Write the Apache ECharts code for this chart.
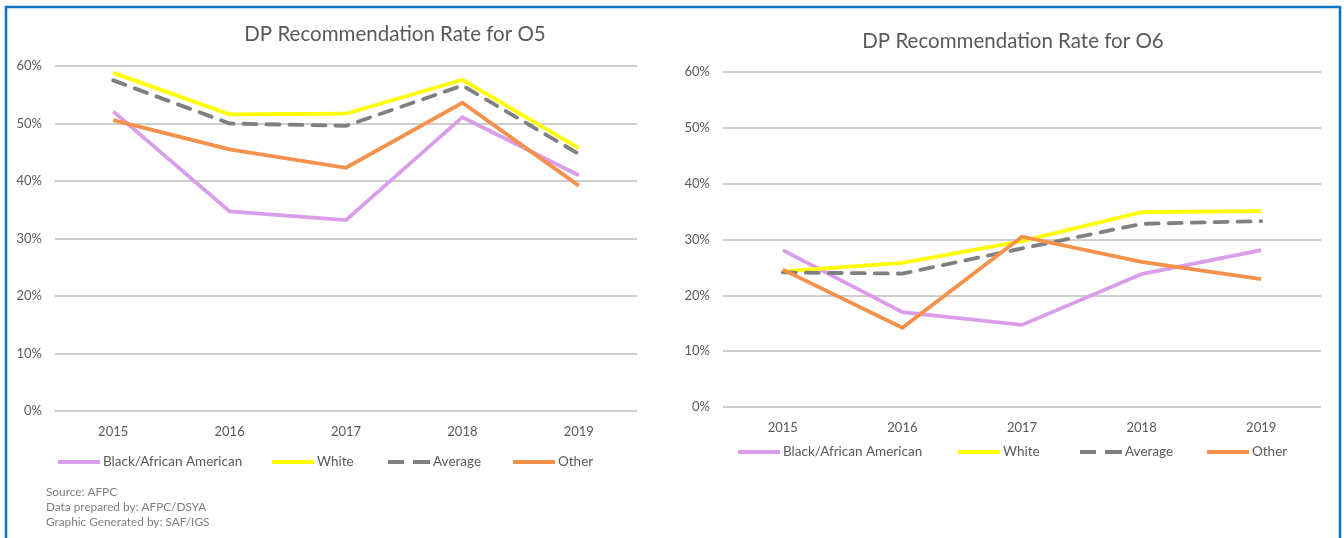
<!DOCTYPE html>
<html>
<head>
<meta charset="utf-8">
<style>
  html, body { margin: 0; padding: 0; background: #ffffff; }
  #chart { width: 1344px; height: 538px; }
</style>
<script src="https://cdn.jsdelivr.net/npm/echarts@6/dist/echarts.min.js"></script>
</head>
<body>
<div id="chart"></div>
<script>
// Years on the category axis
const years = ['2015', '2016', '2017', '2018', '2019'];
const seriesNames = ['Black/African American', 'White', 'Average', 'Other'];

// O5 recommendation rates (%)
const o5Black = [52.1, 34.7, 33.2, 51.1, 41.0];
const o5White = [58.8, 51.6, 51.7, 57.6, 45.7];
const o5Average = [57.5, 50.0, 49.6, 56.6, 44.7];
const o5Other = [50.6, 45.5, 42.3, 53.6, 39.2];

// O6 recommendation rates (%)
const o6Black = [28.1, 17.0, 14.7, 23.8, 28.1];
const o6White = [24.3, 25.8, 29.7, 34.9, 35.1];
const o6Average = [24.1, 23.9, 28.4, 32.8, 33.3];
const o6Other = [24.6, 14.2, 30.5, 26.0, 22.9];

const yTicks = [0, 10, 20, 30, 40, 50, 60];

const footnotes = ['Source: AFPC', 'Data prepared by: AFPC/DSYA', 'Graphic Generated by: SAF/IGS'];

const FONT = 'Lato, "Open Sans", sans-serif';
const TEXT = '#595959';
const colors = {
  'Black/African American': '#DA9DEA',
  'White': '#FFFF00',
  'Average': '#808080',
  'Other': '#F5914A'
};

function lineSeries(name, data, axisIndex) {
  const dashed = name === 'Average';
  return {
    name: name,
    type: 'line',
    xAxisIndex: axisIndex,
    yAxisIndex: axisIndex,
    data: data,
    showSymbol: false,
    symbol: 'none',
    smooth: false,
    animation: false,
    lineStyle: {
      width: 3.8,
      color: colors[name],
      type: dashed ? [13, 10] : 'solid',
      cap: dashed ? 'round' : 'butt',
      join: 'miter'
    },
    itemStyle: { color: colors[name] },
    z: { 'Black/African American': 2, 'White': 3, 'Average': 4, 'Other': 5 }[name]
  };
}

function xAxis(gridIndex) {
  return {
    type: 'category',
    gridIndex: gridIndex,
    data: years,
    boundaryGap: true,
    axisLine: { show: false },
    axisTick: { show: false },
    axisLabel: { color: TEXT, fontFamily: FONT, fontSize: 13, margin: 14 }
  };
}

function yAxis(gridIndex) {
  return {
    type: 'value',
    gridIndex: gridIndex,
    min: yTicks[0],
    max: yTicks[yTicks.length - 1],
    interval: 10,
    axisLine: { show: false },
    axisTick: { show: false },
    splitLine: { lineStyle: { color: '#BFBFBF', width: 1.5 } },
    axisLabel: {
      color: TEXT, fontFamily: FONT, fontSize: 13, margin: 13,
      formatter: v => v + '%'
    }
  };
}

// One legend entry per series so each key sits at its own spot
function legendItem(name, left, top, id) {
  return {
    id: id,
    left: left,
    top: top,
    padding: 0,
    itemWidth: 42,
    itemHeight: 4,
    itemGap: 0,
    data: [{
      name: name,
      icon: name === 'Average'
        ? 'path://M0,0 L16,0 L16,4 L0,4 Z M25,0 L42,0 L42,4 L25,4 Z'
        : 'rect',
      itemStyle: { color: colors[name] }
    }],
    textStyle: { color: TEXT, fontFamily: FONT, fontSize: 13.5, padding: [0, 0, 0, -2] },
    selectedMode: false
  };
}

const legendLeftO5 = [58, 272, 388, 513];
const legendLeftO6 = [738, 958, 1080, 1207];

const legends = [];
seriesNames.forEach((n, i) => {
  legends.push(legendItem(n, legendLeftO5[i], 455, 'o5-' + i));
  legends.push(legendItem(n, legendLeftO6[i], 445, 'o6-' + i));
});

const chart = echarts.init(document.getElementById('chart'), null, { renderer: 'canvas' });

chart.setOption({
  backgroundColor: '#ffffff',
  animation: false,
  title: [
    {
      text: 'DP Recommendation Rate for O5',
      left: 390, top: 19, textAlign: 'center',
      textStyle: { color: TEXT, fontFamily: FONT, fontSize: 20.5, fontWeight: 'normal' }
    },
    {
      text: 'DP Recommendation Rate for O6',
      left: 1008, top: 26, textAlign: 'center',
      textStyle: { color: TEXT, fontFamily: FONT, fontSize: 20.5, fontWeight: 'normal' }
    }
  ],
  legend: legends,
  grid: [
    { left: 55, top: 66, width: 582, height: 345 },
    { left: 723, top: 72, width: 598, height: 335 }
  ],
  xAxis: [xAxis(0), xAxis(1)],
  yAxis: [yAxis(0), yAxis(1)],
  series: [
    lineSeries('Black/African American', o5Black, 0),
    lineSeries('White', o5White, 0),
    lineSeries('Average', o5Average, 0),
    lineSeries('Other', o5Other, 0),
    lineSeries('Black/African American', o6Black, 1),
    lineSeries('White', o6White, 1),
    lineSeries('Average', o6Average, 1),
    lineSeries('Other', o6Other, 1)
  ],
  graphic: [
    // outer frame
    {
      type: 'polyline',
      shape: { points: [[6, 538], [6, 7], [1340, 7], [1340, 538]] },
      style: { stroke: '#0A73C8', lineWidth: 2.5, fill: null },
      silent: true
    },
    {
      type: 'text',
      left: 46, top: 485,
      style: {
        text: footnotes.join('\n'),
        fill: '#7F7F7F',
        font: '11.8px ' + FONT,
        lineHeight: 15
      },
      silent: true
    }
  ]
});
</script>
</body>
</html>
